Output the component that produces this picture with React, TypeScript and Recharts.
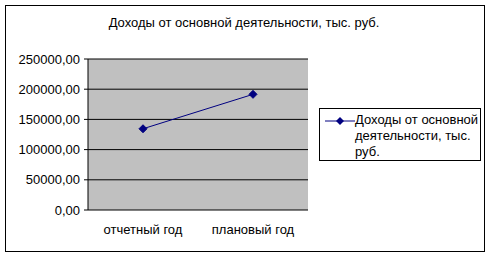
import { LineChart, Line, XAxis, YAxis, CartesianGrid } from "recharts";

const categories = ["отчетный год", "плановый год"];
const incomeValues = [134500, 191500];
const yTicks = [0, 50000, 100000, 150000, 200000, 250000];
const seriesLines = ["Доходы от основной", "деятельности, тыс.", "руб."];
const titleText = "Доходы от основной деятельности, тыс. руб.";

const data = categories.map((c, i) => ({ name: c, income: incomeValues[i] }));

const FONT = "'Liberation Sans', Arial, sans-serif";
const NAVY = "#000080";

const fmt = (v: number) => v.toFixed(2).replace(".", ",");

function Diamond(props: any) {
  const { cx, cy } = props;
  if (cx == null || cy == null) return null;
  return (
    <polygon
      key={`d-${cx}`}
      points={`${cx},${cy - 4} ${cx + 4},${cy} ${cx},${cy + 4} ${cx - 4},${cy}`}
      fill={NAVY}
      stroke={NAVY}
    />
  );
}

function LegendBox() {
  return (
    <div
      style={{
        position: "absolute",
        left: 319,
        top: 108,
        width: 162,
        height: 53,
        border: "1px solid #000",
        boxSizing: "border-box",
        fontFamily: FONT,
        fontSize: 13,
        lineHeight: "16px",
        background: "#fff",
      }}
    >
      <svg width={34} height={20} style={{ position: "absolute", left: 4, top: 2 }}>
        <line x1={1} y1={10} x2={31} y2={10} stroke={NAVY} strokeWidth={1} />
        <polygon points="16,6 20,10 16,14 12,10" fill={NAVY} />
      </svg>
      <div
        style={{
          position: "absolute",
          left: 35,
          top: 3,
          whiteSpace: "nowrap",
          color: "#000",
        }}
      >
        {seriesLines.map((l) => (
          <div key={l}>{l}</div>
        ))}
      </div>
    </div>
  );
}

export default function App() {
  return (
    <div style={{ position: "relative", width: 491, height: 257 }}>
      <style>{`body{margin:0;background:#fff}`}</style>
      <div
        style={{
          position: "absolute",
          left: 5,
          top: 5,
          width: 480,
          height: 247,
          border: "1px solid #000",
          boxSizing: "border-box",
        }}
      />
      <div
        style={{
          position: "absolute",
          top: 15,
          left: 0,
          width: 488,
          textAlign: "center",
          fontFamily: FONT,
          fontSize: 13,
          color: "#000",
        }}
      >
        {titleText}
      </div>
      <div style={{ position: "absolute", left: 0, top: 0 }}>
        <LineChart
          width={491}
          height={257}
          data={data}
          margin={{ top: 59, right: 183, left: 8, bottom: 0 }}
        >
          <CartesianGrid vertical={false} stroke="#000" fill="#c0c0c0" strokeOpacity={1} />
          <XAxis
            xAxisId="ticks"
            type="number"
            domain={[0, 2]}
            ticks={[0, 1, 2]}
            height={0}
            axisLine={{ stroke: "#000" }}
            tickLine={{ stroke: "#000" }}
            tickSize={5}
            tickFormatter={() => ""}
          />
          <XAxis
            dataKey="name"
            height={47}
            padding={{ left: 55, right: 55 }}
            axisLine={false}
            tickLine={false}
            tick={{ fontFamily: FONT, fontSize: 13, fill: "#000" }}
            tickMargin={9}
          />
          <XAxis
            xAxisId="top"
            orientation="top"
            height={0}
            axisLine={{ stroke: "#808080" }}
            tick={false}
            tickLine={false}
          />
          <YAxis
            width={80}
            domain={[0, 250000]}
            ticks={yTicks}
            interval={0}
            axisLine={{ stroke: "#000" }}
            tickLine={{ stroke: "#000" }}
            tickSize={4}
            tickMargin={4}
            tickFormatter={fmt}
            tick={{ fontFamily: FONT, fontSize: 13, fill: "#000" }}
          />
          <YAxis
            yAxisId="right"
            orientation="right"
            width={0}
            axisLine={{ stroke: "#808080" }}
            tick={false}
            tickLine={false}
          />
          <Line
            dataKey="income"
            stroke={NAVY}
            strokeWidth={1}
            dot={<Diamond />}
            activeDot={false}
            isAnimationActive={false}
          />
        </LineChart>
      </div>
      <LegendBox />
    </div>
  );
}
